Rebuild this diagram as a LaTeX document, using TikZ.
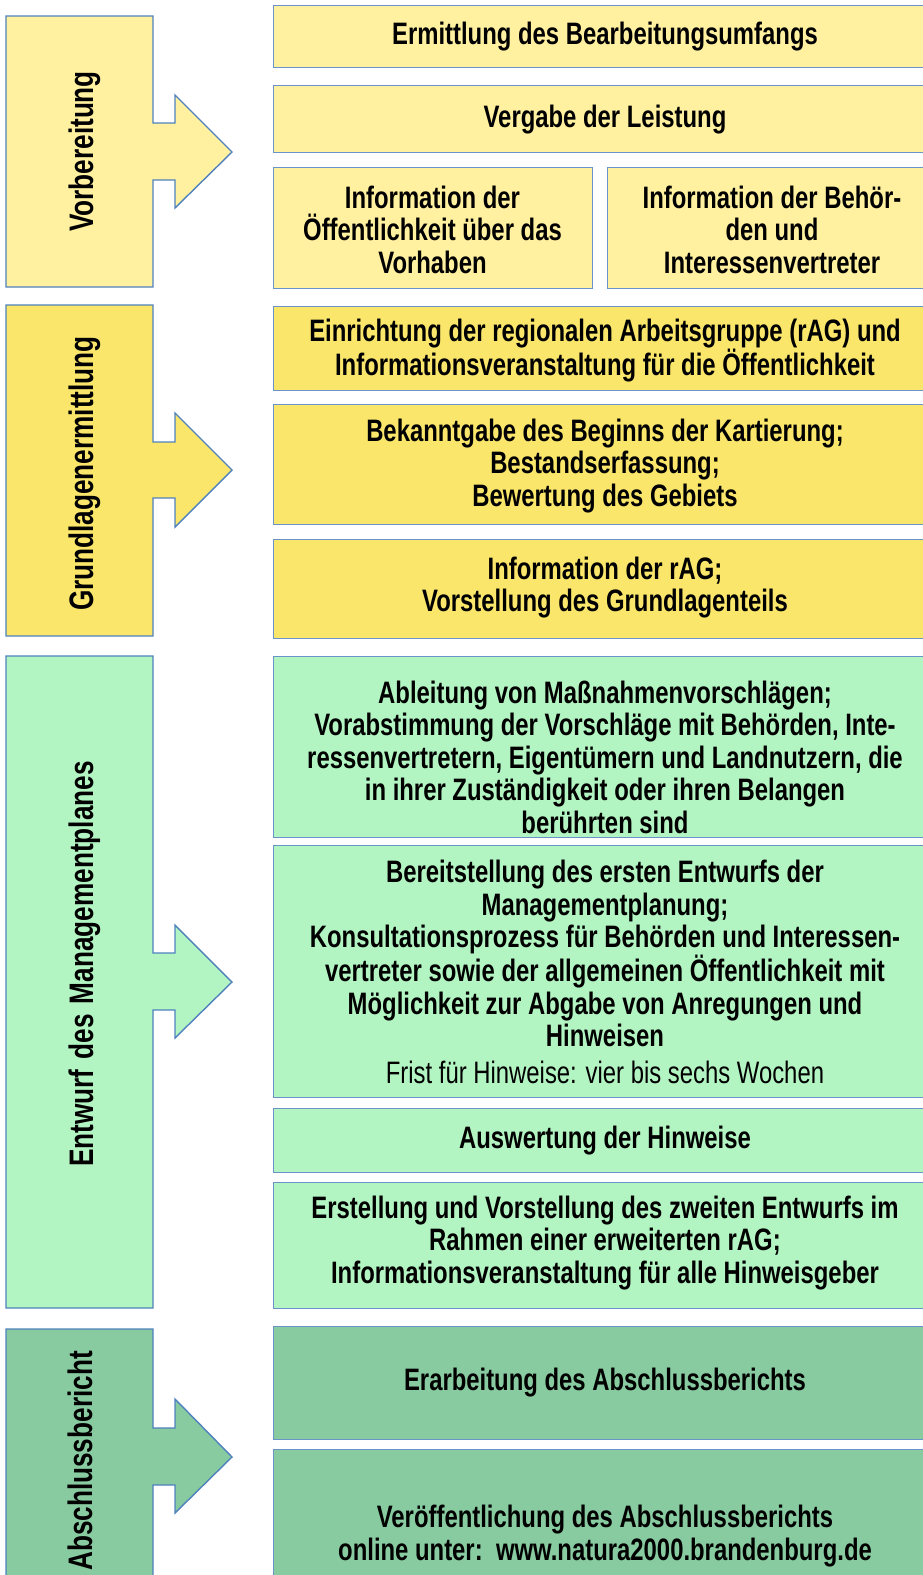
\documentclass[tikz,border=0pt]{standalone}
\usepackage{fontspec}
\setmainfont{Liberation Sans}[FakeStretch=0.77]
\definecolor{lyel}{HTML}{FFF1A0}
\definecolor{dyel}{HTML}{FAE66A}
\definecolor{lgrn}{HTML}{B3F5C2}
\definecolor{dgrn}{HTML}{88CBA1}
\definecolor{bord}{HTML}{4F81BD}
\definecolor{bordl}{HTML}{6A93C9}
\tikzset{
  phase/.style={draw=bord, line width=1.4pt, line join=miter},
  rbox/.style={draw=bordl, line width=1.1pt, rectangle, inner sep=0pt, anchor=north west},
  txt/.style={align=center, inner sep=0pt, font=\fontsize{31}{32.5}\selectfont\bfseries},
  lbl/.style={inner sep=0pt, rotate=90, anchor=base, font=\fontsize{34}{36}\selectfont\bfseries}
}
\begin{document}
\begin{tikzpicture}[x=1pt,y=-1pt]
\useasboundingbox (0,0) rectangle (923,1575);
% phase arrows
\draw[phase, fill=lyel] (6,16) -- (153,16) -- (153,123) -- (175,123) -- (175,95) -- (232,152) -- (175,208) -- (175,180) -- (153,180) -- (153,287) -- (6,287) -- cycle;
\draw[phase, fill=dyel] (6,305) -- (153,305) -- (153,442) -- (175,442) -- (175,413) -- (232,470) -- (175,527) -- (175,498) -- (153,498) -- (153,636) -- (6,636) -- cycle;
\draw[phase, fill=lgrn] (6,656) -- (153,656) -- (153,953) -- (175,953) -- (175,925) -- (232,982) -- (175,1038) -- (175,1010) -- (153,1010) -- (153,1308) -- (6,1308) -- cycle;
\draw[phase, fill=dgrn] (6,1329) -- (153,1329) -- (153,1428) -- (175,1428) -- (175,1399) -- (232,1457) -- (175,1513) -- (175,1485) -- (153,1485) -- (153,1590) -- (6,1590) -- cycle;
\node[lbl] (l1) at (93,151.5) {Vorbereitung};
\node[lbl] (l2) at (93,473.5) {Grundlagenermittlung};
\node[lbl] (l3) at (93,964) {Entwurf\hspace{10pt}des\hspace{10pt}Managementplanes};
\node[lbl] (l4) at (92,1461) {Abschlussbericht};
% right boxes
\node[rbox, fill=lyel, minimum width=664, minimum height=62] (b1) at (273,5) {};
\node[rbox, fill=lyel, minimum width=664, minimum height=67] (b2) at (273,85) {};
\node[rbox, fill=lyel, minimum width=319, minimum height=121] (b3l) at (273,167) {};
\node[rbox, fill=lyel, minimum width=330, minimum height=121] (b3r) at (607,167) {};
\node[rbox, fill=dyel, minimum width=664, minimum height=84] (ga) at (273,306) {};
\node[rbox, fill=dyel, minimum width=664, minimum height=120] (gb) at (273,404) {};
\node[rbox, fill=dyel, minimum width=664, minimum height=99] (gc) at (273,539) {};
\node[rbox, fill=lgrn, minimum width=664, minimum height=181] (g1) at (273,656) {};
\node[rbox, fill=lgrn, minimum width=664, minimum height=252] (g2) at (273,845) {};
\node[rbox, fill=lgrn, minimum width=664, minimum height=64] (g3) at (273,1108) {};
\node[rbox, fill=lgrn, minimum width=664, minimum height=126] (g4) at (273,1182) {};
\node[rbox, fill=dgrn, minimum width=664, minimum height=113] (d1) at (273,1326) {};
\node[rbox, fill=dgrn, minimum width=664, minimum height=141] (d2) at (273,1449) {};
% texts
\node[txt] (tb1) at (605,37) {Ermittlung des Bearbeitungsumfangs};
\node[txt] (tb2) at (605,119.5) {Vergabe der Leistung};
\node[txt] (tb3l) at (432.5,229.5) {Information der\\Öffentlichkeit über das\\Vorhaben};
\node[txt] (tb3r) at (772,229.5) {Information der Behör-\\den und\\Interessenvertreter};
\node[txt] (tga) at (605,350.5) {Einrichtung der regionalen Arbeitsgruppe (rAG) und\\Informationsveranstaltung für die Öffentlichkeit};
\node[txt] (tgb) at (605,466) {Bekanntgabe des Beginns der Kartierung;\\Bestandserfassung;\\Bewertung des Gebiets};
\node[txt] (tgc) at (605,587.5) {Information der rAG;\\Vorstellung des Grundlagenteils};
\node[txt] (tg1) at (605,757) {Ableitung von Maßnahmenvorschlägen;\\Vorabstimmung der Vorschläge mit Behörden, Inte-\\ressenvertretern, Eigentümern und Landnutzern, die\\in ihrer Zuständigkeit oder ihren Belangen\\berührten sind};
\node[txt] (tg2) at (605,972) {Bereitstellung des ersten Entwurfs der\\Managementplanung;\\Konsultationsprozess für Behörden und Interessen-\\vertreter sowie der allgemeinen Öffentlichkeit mit\\Möglichkeit zur Abgabe von Anregungen und\\Hinweisen\\[4pt]{\mdseries Frist für Hinweise: vier bis sechs Wochen}};
\node[txt] (tg3) at (605,1141) {Auswertung der Hinweise};
\node[txt] (tg4) at (605,1243) {Erstellung und Vorstellung des zweiten Entwurfs im\\Rahmen einer erweiterten rAG;\\Informationsveranstaltung für alle Hinweisgeber};
\node[txt] (td1) at (605,1383) {Erarbeitung des Abschlussberichts};
\node[txt] (td2) at (605,1536) {Veröffentlichung des Abschlussberichts\\online unter:\ \ www.natura2000.brandenburg.de};
\end{tikzpicture}
\end{document}
